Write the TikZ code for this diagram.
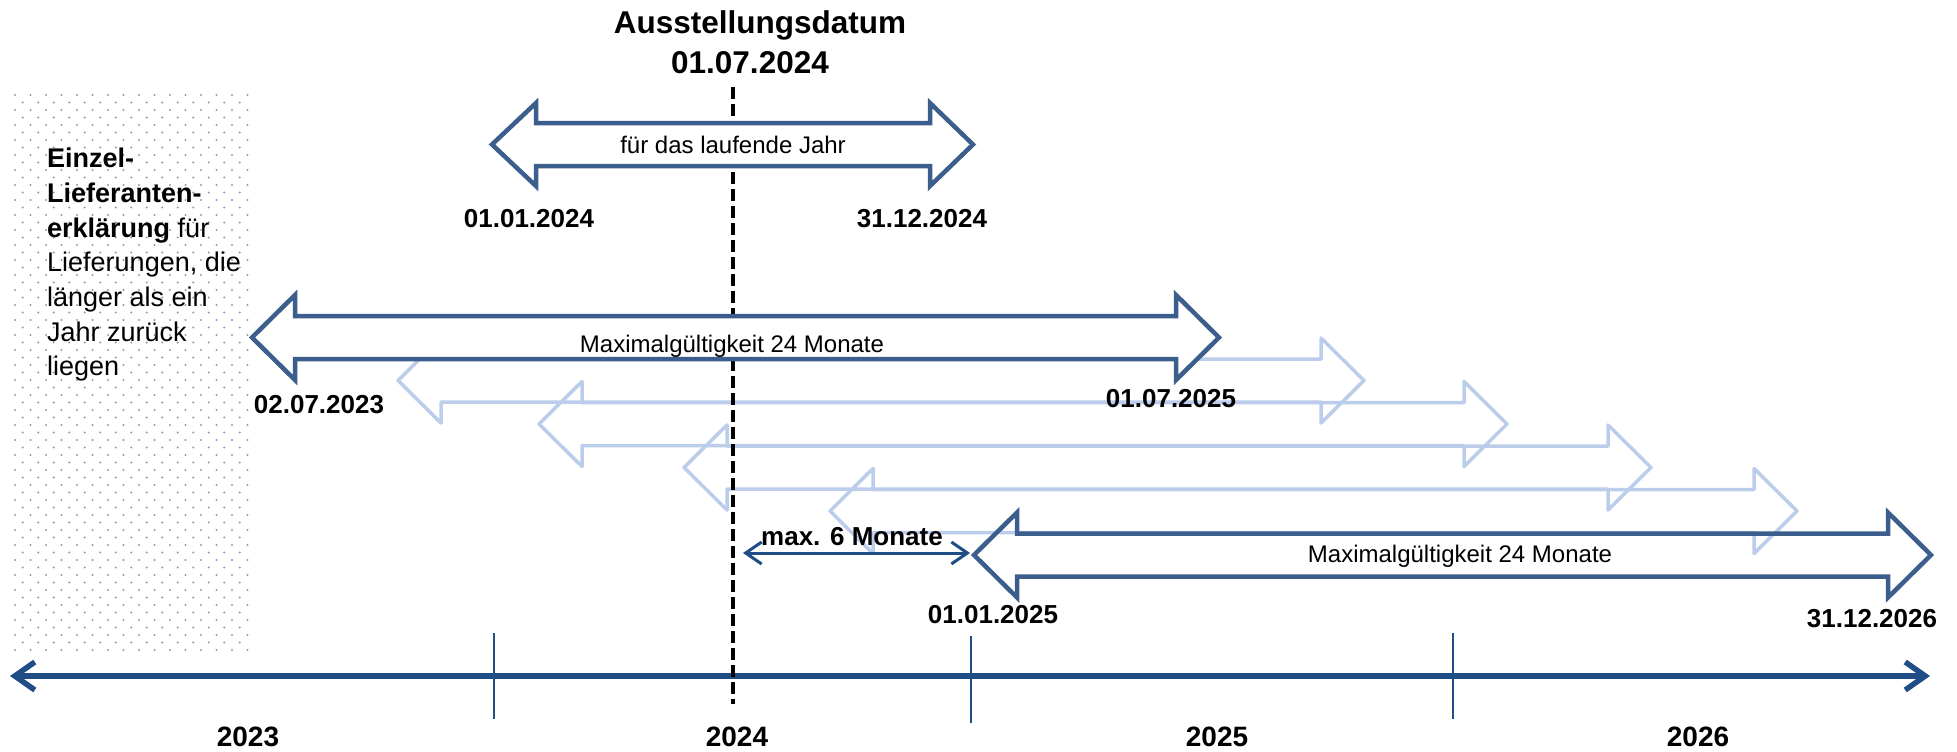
\documentclass[tikz,border=0pt]{standalone}
\usepackage{fontspec}
\setmainfont{Liberation Sans}
\usetikzlibrary{arrows.meta}
\definecolor{arrowblue}{RGB}{59,94,140}
\definecolor{axisblue}{RGB}{31,77,134}
\definecolor{paleblue}{RGB}{188,205,236}
\definecolor{dotblue}{RGB}{138,155,192}
% double block arrow: style, left tip x, right tip x, centre y
\newcommand\DblArrow[4]{%
  \draw[#1] (#2,#4) -- ({#2+43},{#4-42.5}) -- ({#2+43},{#4-21.5})
    -- ({#3-43},{#4-21.5}) -- ({#3-43},{#4-42.5}) -- (#3,#4)
    -- ({#3-43},{#4+42.5}) -- ({#3-43},{#4+21.5}) -- ({#2+43},{#4+21.5})
    -- ({#2+43},{#4+42.5}) -- cycle;}
\tikzset{
  darkarrow/.style={draw=arrowblue, line width=4.5pt, line join=miter, fill=white},
  darkarrownofill/.style={draw=arrowblue, line width=4.5pt, line join=miter},
  palearrow/.style={draw=paleblue, line width=3.5pt, line join=round},
  datelabel/.style={font=\fontsize{26}{30}\selectfont\bfseries, anchor=base, inner sep=0pt},
  yearlabel/.style={font=\fontsize{28}{32}\selectfont\bfseries, anchor=base, inner sep=0pt},
  arrowtext/.style={font=\fontsize{24}{28}\selectfont, anchor=base, inner sep=0pt},
  titletext/.style={font=\fontsize{31.5}{36}\selectfont\bfseries, anchor=base, inner sep=0pt},
  tick/.style={draw=axisblue, line width=1.8pt},
  axisline/.style={draw=axisblue, line width=5.5pt,
    {Straight Barb[length=20pt,width=28pt]}-{Straight Barb[length=20pt,width=28pt]}},
  smallarrow/.style={draw=axisblue, line width=3pt,
    {Straight Barb[length=16pt,width=22pt]}-{Straight Barb[length=16pt,width=22pt]}},
  issueline/.style={draw=black, line width=4pt, dash pattern=on 12pt off 5pt},
}
\begin{document}
\begin{tikzpicture}[x=1pt, y=-1pt]
\useasboundingbox (0,0) rectangle (1957,752);
% dotted background area
\foreach \r in {0,...,74}{
  \foreach \c in {0,...,15}{
    \pgfmathsetmacro\dx{15+15.5*\c+7.75*mod(\r,2)}
    \pgfmathsetmacro\dy{95+7.5*\r}
    \ifdim\dx pt<249pt
      \fill[dotblue] (\dx,\dy) circle (1.15);
    \fi
  }
}
\node[font=\fontsize{27}{34.7}\selectfont, align=left, anchor=north west, inner sep=0pt]
  (note) at (47,148) {\textbf{Einzel-}\\\textbf{Lieferanten-}\\\textbf{erklärung} für\\Lieferungen, die\\länger als ein\\Jahr zurück\\liegen};
% time axis
\coordinate (axL) at (10,676);
\coordinate (axR) at (1930,676);
\draw[axisline] (axL) -- (axR);
\coordinate (t1a) at (494,633); \coordinate (t1b) at (494,719);
\coordinate (t2a) at (971,636); \coordinate (t2b) at (971,723);
\coordinate (t3a) at (1453,633); \coordinate (t3b) at (1453,719);
\draw[tick] (t1a) -- (t1b);
\draw[tick] (t2a) -- (t2b);
\draw[tick] (t3a) -- (t3b);
\node[yearlabel] (y23) at (248,746) {2023};
\node[yearlabel] (y24) at (737,746) {2024};
\node[yearlabel] (y25) at (1217,746) {2025};
\node[yearlabel] (y26) at (1698,746) {2026};
% shifted pale arrows
\DblArrow{palearrow}{398}{1364}{380.5}
\DblArrow{palearrow}{539}{1507}{424}
\DblArrow{palearrow}{684}{1651}{467.5}
\DblArrow{palearrow}{830}{1797}{511}
% issue date line
\coordinate (isTop) at (733,87);
\coordinate (isBot) at (733,704);
\draw[issueline] (isTop) -- (isBot);
\node[titletext] (title1) at (760,34) {Ausstellungsdatum};
\node[titletext] (title2) at (750,74) {01.07.2024};
% current year arrow
\draw[darkarrow] (492,144.5) -- (536,103) -- (536,123) -- (930,123) -- (930,103) -- (973,144.5)
  -- (930,186) -- (930,166) -- (536,166) -- (536,186) -- cycle;
\node[arrowtext] (cur) at (733,153) {für das laufende Jahr};
\node[datelabel] (d1) at (529,227) {01.01.2024};
\node[datelabel] (d2) at (922,227) {31.12.2024};
% 24 months backwards
\DblArrow{darkarrow}{252}{1219}{337.5}
\node[arrowtext] (maxA) at (732,352) {Maximalgültigkeit 24 Monate};
\node[datelabel] (d3) at (319,413) {02.07.2023};
\node[datelabel] (d4) at (1171,407) {01.07.2025};
% 24 months forwards
\DblArrow{darkarrownofill}{974}{1931}{555}
\node[arrowtext] (maxB) at (1460,562) {Maximalgültigkeit 24 Monate};
\node[datelabel] (d5) at (993,623) {01.01.2025};
\node[datelabel] (d6) at (1872,627) {31.12.2026};
% max 6 months
\coordinate (m6L) at (743,553);
\coordinate (m6R) at (970,553);
\draw[smallarrow] (m6L) -- (m6R);
\node[datelabel] (m6) at (852,545) {max. 6 Monate};
\end{tikzpicture}
\end{document}
